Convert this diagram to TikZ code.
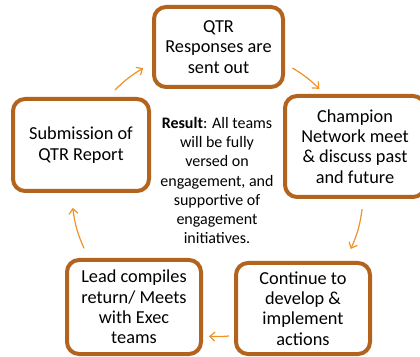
\documentclass[tikz,border=0pt]{standalone}
\usepackage{fontspec}
\setmainfont{Carlito}
\usetikzlibrary{arrows.meta,calc}
\definecolor{boxbrown}{RGB}{178,100,30}
\definecolor{arrorange}{RGB}{240,145,42}
\begin{document}
\begin{tikzpicture}[x=1pt,y=1pt,
  stagebox/.style={draw=boxbrown, line width=4pt, rounded corners=12pt,
    inner sep=0pt, align=center, fill=white,
    font=\fontsize{18.3}{20.3}\selectfont},
  cyclearrow/.style={draw=arrorange, line width=1.2pt,
    -{Straight Barb[length=5pt,width=9pt]}}]
\useasboundingbox (0,0) rectangle (420,356);
\clip (0,0) rectangle (420,356);
\fill[white] (0,0) rectangle (420,356);
\node[stagebox, minimum width=129pt, minimum height=80pt] (top) at (218.5,309)
  {QTR\\Responses are\\sent out};
\node[stagebox, minimum width=136pt, minimum height=92pt] (left) at (81,211)
  {Submission of\\QTR Report};
\node[stagebox, minimum width=140pt, minimum height=101pt] (right) at (355,209.5)
  {Champion\\Network meet\\\& discuss past\\and future};
\node[stagebox, minimum width=134pt, minimum height=94pt] (bl) at (134,49)
  {Lead compiles\\return/ Meets\\with Exec\\teams};
\node[stagebox, minimum width=134pt, minimum height=91pt] (br) at (303,47.5)
  {Continue to\\develop \&\\implement\\actions};
\node[align=center, inner sep=0pt, font=\fontsize{16}{19.2}\selectfont] (result) at (217,175.5)
  {\textbf{Result}: All teams\\will be fully\\versed on\\engagement, and\\supportive of\\engagement\\initiatives.};
\coordinate (ctr) at (217,163);
\coordinate (a1s) at ($(ctr)+(134.7:145)$);
\coordinate (a1e) at ($(ctr)+(120.6:145)$);
\coordinate (a2s) at ($(ctr)+(58.9:146)$);
\coordinate (a2e) at ($(ctr)+(45.5:146)$);
\coordinate (a3s) at ($(ctr)+(-6.3:146)$);
\coordinate (a3e) at ($(ctr)+(-22.7:145)$);
\coordinate (a4s) at ($(ctr)+(-85.2:143.5)$);
\coordinate (a4e) at ($(ctr)+(-93.2:143.5)$);
\coordinate (a5s) at ($(ctr)+(202.6:144)$);
\coordinate (a5e) at ($(ctr)+(185.9:145)$);
\draw[cyclearrow] (a1s) to[bend left=7] (a1e);
\draw[cyclearrow] (a2s) to[bend left=6.7] (a2e);
\draw[cyclearrow] (a3s) to[bend left=8.2] (a3e);
\draw[cyclearrow] (a4s) to[bend left=4] (a4e);
\draw[cyclearrow] (a5s) to[bend left=8.3] (a5e);
\end{tikzpicture}
\end{document}
